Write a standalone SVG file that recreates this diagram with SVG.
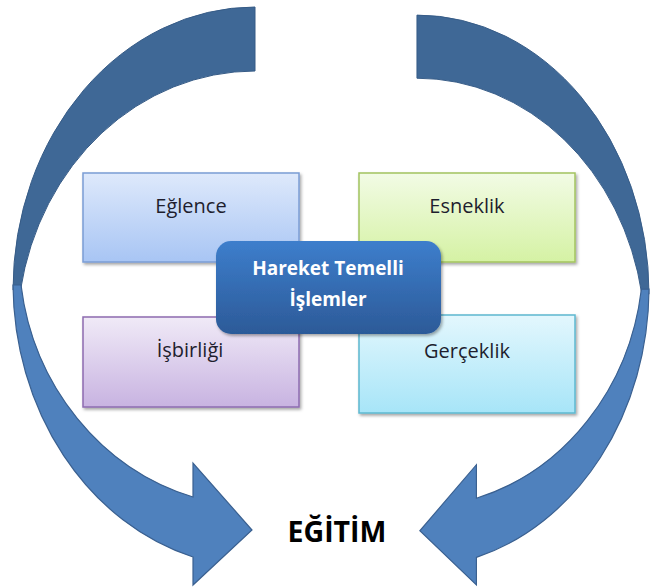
<svg xmlns="http://www.w3.org/2000/svg" width="650" height="588" viewBox="0 0 650 588">
<defs>
<style>
.back{fill:#3F6896;stroke:#365B86;stroke-width:1}
.front{fill:#4F81BD;stroke:#3A6090;stroke-width:1.2;stroke-linejoin:miter}
.lbl{font-family:"Open Sans","Noto Sans",sans-serif;font-size:20px;fill:#1E1E2E;text-anchor:middle}
.ctr{font-family:"Open Sans","Noto Sans",sans-serif;font-size:19px;font-weight:bold;fill:#FFFFFF;text-anchor:middle}
.main{font-family:"Open Sans","Noto Sans",sans-serif;font-size:28.5px;font-weight:bold;fill:#000000;text-anchor:middle}
</style>
<linearGradient id="gBlue" x1="0" y1="0" x2="0" y2="1"><stop offset="0" stop-color="#DEE9FB"/><stop offset="1" stop-color="#A8C5F4"/></linearGradient>
<linearGradient id="gGreen" x1="0" y1="0" x2="0" y2="1"><stop offset="0" stop-color="#F2FBE5"/><stop offset="1" stop-color="#D5F2A4"/></linearGradient>
<linearGradient id="gPurple" x1="0" y1="0" x2="0" y2="1"><stop offset="0" stop-color="#F0EAF7"/><stop offset="1" stop-color="#C8B3E1"/></linearGradient>
<linearGradient id="gCyan" x1="0" y1="0" x2="0" y2="1"><stop offset="0" stop-color="#E3F7FD"/><stop offset="1" stop-color="#A7E5F8"/></linearGradient>
<linearGradient id="gCenter" x1="0" y1="0" x2="0" y2="1"><stop offset="0" stop-color="#3D7ECC"/><stop offset="1" stop-color="#2C5A98"/></linearGradient>
<filter id="sh" x="-10%" y="-10%" width="125%" height="130%"><feDropShadow dx="1.5" dy="2" stdDeviation="1.5" flood-color="#000" flood-opacity="0.35"/></filter>
<g id="arrowShape">
<path class="back" d="M 255 7 A 242 283 0 0 0 13 290 L 20.5 290 A 238 264 0 0 1 255 71 Z"/>
<path class="front" d="M 13 285 A 247 285 0 0 0 193 557 L 193 585 L 252 530 L 193 463 L 193 497 A 240 255 0 0 1 21 285 Z"/>
</g>
</defs>
<g id="connectors">
<g id="arrow-left"><use href="#arrowShape"/></g>
<g id="arrow-right" transform="matrix(-0.959 0 0 0.986 661.5 8.2)"><use href="#arrowShape"/></g>
</g>
<g id="node-eglence">
<rect x="83" y="173" width="216" height="89" fill="url(#gBlue)" stroke="#7B9DD5" stroke-width="1.5" filter="url(#sh)"/>
<text class="lbl" x="191" y="213">Eğlence</text>
</g>
<g id="node-esneklik">
<rect x="359" y="173" width="216" height="89" fill="url(#gGreen)" stroke="#A3C35F" stroke-width="1.5" filter="url(#sh)"/>
<text class="lbl" x="467" y="213">Esneklik</text>
</g>
<g id="node-isbirligi">
<rect x="83" y="317" width="216" height="90" fill="url(#gPurple)" stroke="#8D6BB0" stroke-width="1.5" filter="url(#sh)"/>
<text class="lbl" x="190" y="357">İşbirliği</text>
</g>
<g id="node-gerceklik">
<rect x="359" y="315" width="216" height="98" fill="url(#gCyan)" stroke="#5DB8D0" stroke-width="1.5" filter="url(#sh)"/>
<text class="lbl" x="467" y="358">Gerçeklik</text>
</g>
<g id="node-center">
<rect x="216" y="241" width="225" height="93" rx="15" ry="15" fill="url(#gCenter)" filter="url(#sh)"/>
<text class="ctr" x="328" y="275">Hareket Temelli</text>
<text class="ctr" x="328" y="306">İşlemler</text>
</g>
<g id="node-egitim">
<text class="main" x="337" y="542">EĞİTİM</text>
</g>
</svg>
